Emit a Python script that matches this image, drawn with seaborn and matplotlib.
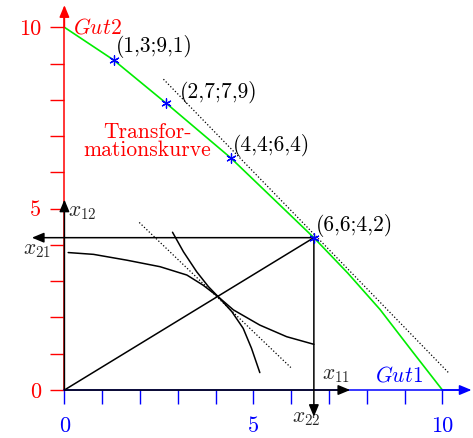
import matplotlib
matplotlib.use("Agg")
import matplotlib.pyplot as plt
import seaborn as sns

# transformation curve (Gut1, Gut2)
curve_x = [0, 1.3, 2.7, 4.4, 6.6, 7.5, 8.35, 9.2, 10]
curve_y = [10, 9.1, 7.9, 6.4, 4.2, 3.22, 2.22, 1.07, 0]

point_x = [1.3, 2.7, 4.4, 6.6]
point_y = [9.1, 7.9, 6.4, 4.2]
point_labels = ['(1,3;9,1)', '(2,7;7,9)', '(4,4;6,4)', '(6,6;4,2)']

tangent_x = [2.62, 10.16]
tangent_y = [8.57, 0.48]

# edgeworth box under the point (6,6;4,2)
contract_x = [0, 6.6]
contract_y = [0, 4.2]
indiff1_x = [2.86, 3.15, 3.50, 3.81, 4.07, 4.47, 5.17, 5.88, 6.60]
indiff1_y = [4.35, 3.81, 3.26, 2.85, 2.57, 2.21, 1.79, 1.47, 1.26]
indiff2_x = [0.10, 0.77, 1.65, 2.53, 3.24, 3.67, 4.07, 4.43, 4.73, 4.95, 5.17]
indiff2_y = [3.79, 3.74, 3.58, 3.40, 3.17, 2.89, 2.57, 2.16, 1.70, 1.15, 0.48]
tangent2_x = [1.98, 5.99]
tangent2_y = [4.62, 0.62]

ticks = list(range(11))
tick_labels = ['0', '', '', '', '', '5', '', '', '', '', '10']

sns.set_theme(style='white')
plt.rcParams['font.family'] = 'cmr10'
plt.rcParams['mathtext.fontset'] = 'cm'
plt.rcParams['axes.formatter.use_mathtext'] = True

RED = (1, 0, 0)
BLUE = (0, 0, 1)
GREEN = (0, 0.93, 0)
FS = 15.5

fig = plt.figure(figsize=(4.73, 4.38), dpi=100)
ax = fig.add_axes([0, 0, 1, 1])
ax.set_xlim(-1.704, 10.81)
ax.set_ylim(-1.323, 10.753)

# axes Gut1 / Gut2
for s in ['top', 'right']:
    ax.spines[s].set_visible(False)
ax.spines['left'].set_position(('data', 0))
ax.spines['bottom'].set_position(('data', 0))
ax.spines['left'].set_bounds(0, 10.4)
ax.spines['bottom'].set_bounds(0, 10.6)
ax.spines['left'].set_color(RED)
ax.spines['bottom'].set_color(BLUE)
ax.spines['left'].set_linewidth(1.1)
ax.spines['bottom'].set_linewidth(1.1)
ax.set_xticks(ticks)
ax.set_xticklabels(tick_labels)
ax.set_yticks(ticks)
ax.set_yticklabels(tick_labels)
ax.tick_params(axis='x', bottom=True, direction='out', length=10, width=1,
               color=BLUE, labelcolor=BLUE, labelsize=16, pad=9)
ax.tick_params(axis='y', left=True, direction='out', length=10, width=1,
               color=RED, labelcolor=RED, labelsize=16, pad=7)

arrow = '-|>,head_length=0.6,head_width=0.25'
ax.annotate('', xy=(10.77, 0), xytext=(10.0, 0),
            arrowprops=dict(arrowstyle=arrow, color=BLUE, lw=1.1,
                            shrinkA=0, shrinkB=0, mutation_scale=12))
ax.annotate('', xy=(0, 10.61), xytext=(0, 10.0),
            arrowprops=dict(arrowstyle=arrow, color=RED, lw=1.1,
                            shrinkA=0, shrinkB=0, mutation_scale=12))
ax.text(0.23, 10.0, r'$Gut2$', color=RED, fontsize=FS, ha='left', va='center')
ax.text(8.22, 0.41, r'$Gut1$', color=BLUE, fontsize=FS, ha='left', va='center')

# transformation curve and tangent
sns.lineplot(x=curve_x, y=curve_y, sort=False, estimator=None, color=GREEN,
             lw=1.2, ax=ax)
sns.lineplot(x=tangent_x, y=tangent_y, sort=False, estimator=None, color='black',
             lw=0.9, linestyle=':', ax=ax)
sns.scatterplot(x=point_x, y=point_y, marker=(6, 2, 0), s=45, color=BLUE,
                edgecolor=BLUE, linewidth=0.9, ax=ax, zorder=5)
label_offsets = [(2, 13), (13, 11), (2, 12), (2, 12)]
for px, py, lab, off in zip(point_x, point_y, point_labels, label_offsets):
    ax.annotate(lab, (px, py), xytext=off, textcoords='offset pixels',
                fontsize=FS, ha='left', va='center', color='black')
ax.text(2.19, 6.87, 'Transfor-\nmationskurve', color=RED, fontsize=FS,
        ha='center', va='center', linespacing=0.9)

# edgeworth box
sns.lineplot(x=contract_x, y=contract_y, sort=False, estimator=None,
             color='black', lw=1.1, ax=ax)
sns.lineplot(x=indiff1_x, y=indiff1_y, sort=False, estimator=None,
             color='black', lw=1.1, ax=ax)
sns.lineplot(x=indiff2_x, y=indiff2_y, sort=False, estimator=None,
             color='black', lw=1.1, ax=ax)
sns.lineplot(x=tangent2_x, y=tangent2_y, sort=False, estimator=None,
             color='black', lw=0.9, linestyle=':', ax=ax)

box_axes = [((0, 0), (7.56, 0)), ((0, 0), (0, 5.25)),
            ((6.6, 4.2), (-0.86, 4.2)), ((6.6, 4.2), (6.6, -0.74))]
for start, end in box_axes:
    ax.annotate('', xy=end, xytext=start,
                arrowprops=dict(arrowstyle=arrow, color='black', lw=1.1,
                                shrinkA=0, shrinkB=0, mutation_scale=12),
                zorder=4)
ax.text(6.81, 0.41, r'$x_{11}$', fontsize=FS, ha='left', va='center')
ax.text(0.1, 4.9, r'$x_{12}$', fontsize=FS, ha='left', va='center')
ax.text(-1.1, 3.86, r'$x_{21}$', fontsize=FS, ha='left', va='center')
ax.text(6.02, -0.77, r'$x_{22}$', fontsize=FS, ha='left', va='center')

fig.savefig('out.png', dpi=100)
